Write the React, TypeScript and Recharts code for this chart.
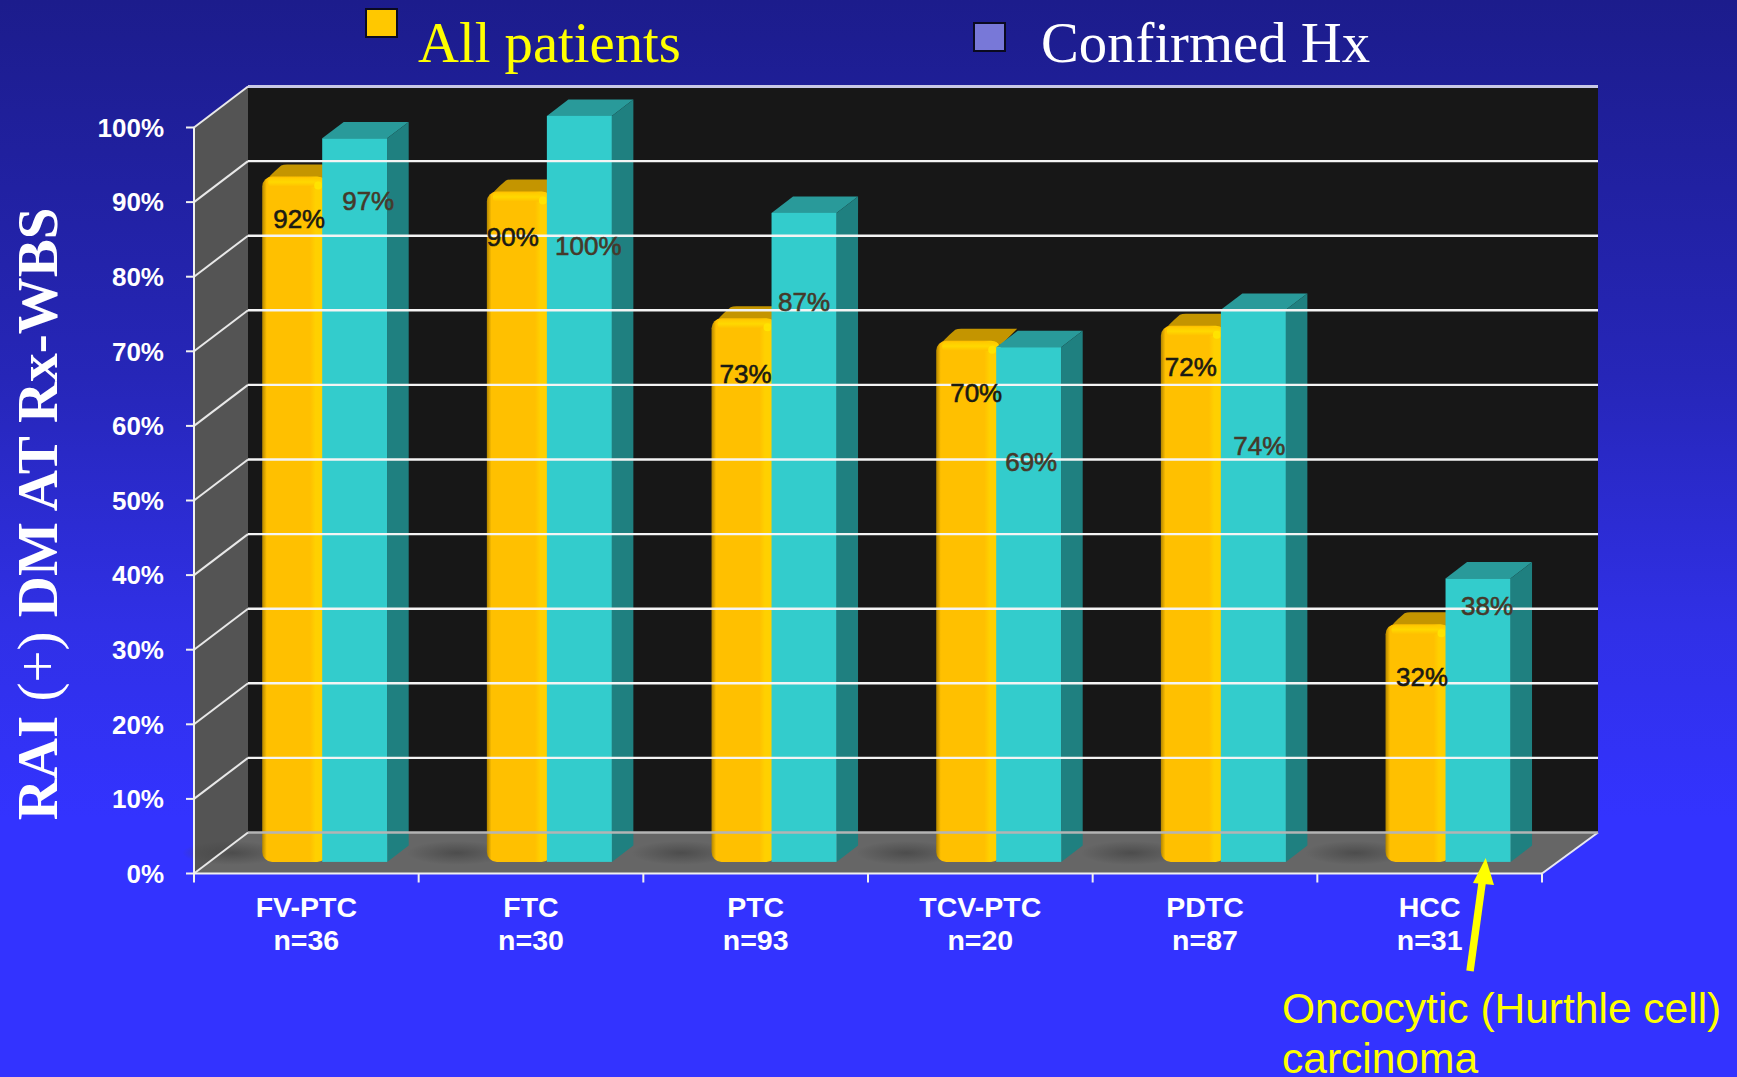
import React from "react";
import {
  Bar,
  BarChart,
  LabelList,
  Legend,
  ReferenceArea,
  ReferenceLine,
  XAxis,
  YAxis,
} from "recharts";

// Chart values
const categories = ["FV-PTC", "FTC", "PTC", "TCV-PTC", "PDTC", "HCC"];
const sampleSizes = ["n=36", "n=30", "n=93", "n=20", "n=87", "n=31"];
const allPatients = [92, 90, 73, 70, 72, 32];
const confirmedHx = [97, 100, 87, 69, 74, 38];
const yTicks = [0, 10, 20, 30, 40, 50, 60, 70, 80, 90, 100];
const legendLabels = ["All patients", "Confirmed Hx"];
const axisTitle = ["RAI ", "(+)", " DM AT Rx-WBS"];
const noteLines = ["Oncocytic (Hurthle cell)", "carcinoma"];

const rows = categories.map((category, i) => ({
  category,
  sample: sampleSizes[i],
  allPatients: allPatients[i],
  confirmedHx: confirmedHx[i],
}));

// Nudges for the value captions, measured from each bar's top centre
const allPatientsCaptionNudge = [[7, 43], [-4, 46], [4, 57], [10, 53], [0, 42], [6.5, 54]];
const confirmedCaptionNudge = [[13.5, 63], [9, 130], [0, 89], [2.5, 115], [6, 136], [9, 28]];

// Projection of the 3D box
const WALL_DX = 54;
const WALL_DY = -41;
const WALL_RIGHT_EXTRA = 2;
const BAR_FLOOR_DX = 18.2;
const BAR_FLOOR_DY = -11.6;
const BAR_DEPTH_DX = 21.5;
const BAR_DEPTH_DY = -16.3;
const VISIBLE_ORANGE = 60;

const SANS = "'Liberation Sans', Arial, sans-serif";
const SERIF = "'Liberation Serif', 'Times New Roman', serif";

const Room = ({ x, y, width, height }: any) => {
  const left = x;
  const right = x + width;
  const top = y;
  const bottom = y + height;
  const backRight = right + WALL_DX + WALL_RIGHT_EXTRA;
  const pts = (list: number[][]) => list.map((p) => p.join(",")).join(" ");
  return (
    <g>
      <polygon
        fill="#171717"
        points={pts([
          [left + WALL_DX, top + WALL_DY],
          [backRight, top + WALL_DY],
          [backRight, bottom + WALL_DY],
          [left + WALL_DX, bottom + WALL_DY],
        ])}
      />
      <polygon
        fill="#545454"
        points={pts([
          [left, top],
          [left + WALL_DX, top + WALL_DY],
          [left + WALL_DX, bottom + WALL_DY],
          [left, bottom],
        ])}
      />
      <polygon
        fill="#666666"
        points={pts([
          [left, bottom],
          [left + WALL_DX, bottom + WALL_DY],
          [backRight, bottom + WALL_DY],
          [right, bottom],
        ])}
      />
      <line
        x1={right}
        y1={bottom}
        x2={backRight}
        y2={bottom + WALL_DY}
        stroke="#e8e8f4"
        strokeWidth={2}
      />
    </g>
  );
};

// One gridline: along the back wall, then diagonally down the side wall
const GridRow = ({ x1, x2, y1, y2, tick }: any) => {
  const isTop = tick === yTicks[yTicks.length - 1];
  const isFloor = tick === yTicks[0];
  const color = isTop ? "#c8c8e6" : isFloor ? "#b4b4b4" : "#f4f4f4";
  const left = Math.min(x1, x2);
  const right = Math.max(x1, x2);
  return (
    <g>
      <line
        x1={left + WALL_DX}
        x2={right + WALL_DX + WALL_RIGHT_EXTRA}
        y1={y1 + WALL_DY}
        y2={y2 + WALL_DY}
        stroke={color}
        strokeWidth={isTop ? 3 : 2.4}
      />
      <line
        x1={left}
        y1={y1}
        x2={left + WALL_DX}
        y2={y1 + WALL_DY}
        stroke="#e8e8e8"
        strokeWidth={2}
      />
    </g>
  );
};

const RoundedBar = ({ x, y, width, height, value }: any) => {
  if (!height) return null;
  const left = x + BAR_FLOOR_DX;
  const top = y + BAR_FLOOR_DY;
  const base = top + height;
  return (
    <g>
      <ellipse cx={left - 30} cy={base - 9} rx={50} ry={12} fill="url(#floorShade)" />
      <path
        fill="#c49500"
        d={`M ${left + 2} ${top + 8} Q ${left + 6} ${top + 1} ${left + 19} ${top - 10}
            Q ${left + 21} ${top - 11} ${left + 25} ${top - 11}
            L ${left + width + 16} ${top - 11} L ${left + width} ${top + 5} Z`}
      />
      <rect x={left} y={top + 1} width={width} height={height - 1} rx={10} ry={10} fill="url(#orangeFace)" />
      <rect x={left + 6} y={top + 2} width={width - 9} height={9} rx={4} fill="url(#orangeRim)" />
      <circle cx={left + VISIBLE_ORANGE - 4} cy={top + 10} r={4} fill="#ffe600" opacity={0.9} />
      <title>{`${value}%`}</title>
    </g>
  );
};

const BoxBar = ({ x, y, width, height, value }: any) => {
  if (!height) return null;
  const left = x + BAR_FLOOR_DX;
  const top = y + BAR_FLOOR_DY;
  const right = left + width;
  const base = top + height;
  return (
    <g>
      <polygon
        fill="#299a9a"
        points={`${left},${top} ${left + BAR_DEPTH_DX},${top + BAR_DEPTH_DY} ${right + BAR_DEPTH_DX},${top + BAR_DEPTH_DY} ${right},${top}`}
      />
      <polygon
        fill="#1f8080"
        points={`${right},${top} ${right + BAR_DEPTH_DX},${top + BAR_DEPTH_DY} ${right + BAR_DEPTH_DX},${base + BAR_DEPTH_DY} ${right},${base}`}
      />
      <rect x={left} y={top} width={width} height={height} fill="#33cccc" />
      <title>{`${value}%`}</title>
    </g>
  );
};

const makeCaption =
  (nudges: number[][], visibleWidth: number, fill: string) =>
  ({ x, y, index, value }: any) => {
    const [dx, dy] = nudges[index];
    return (
      <text
        x={x + BAR_FLOOR_DX + visibleWidth / 2 + dx}
        y={y + BAR_FLOOR_DY + dy}
        fill={fill}
        stroke={fill}
        strokeWidth={0.6}
        fontFamily={SANS}
        fontSize={26}
        textAnchor="middle"
        dominantBaseline="central"
      >
        {`${value}%`}
      </text>
    );
  };

const CategoryTick = ({ x, y, index, payload, tickGap }: any) => {
  const half = tickGap / 2;
  const isLast = index === categories.length - 1;
  return (
    <g>
      <line x1={x - half} x2={x - half} y1={y} y2={y + 9} stroke="#f0f0f0" strokeWidth={2} />
      {isLast && <line x1={x + half} x2={x + half} y1={y} y2={y + 9} stroke="#f0f0f0" strokeWidth={2} />}
      <text
        x={x}
        y={y + 43.5}
        fill="#ffffff"
        fontFamily={SANS}
        fontWeight="bold"
        fontSize={28.5}
        textAnchor="middle"
      >
        {payload.value}
      </text>
      <text
        x={x}
        y={y + 76.5}
        fill="#ffffff"
        fontFamily={SANS}
        fontWeight="bold"
        fontSize={28.5}
        textAnchor="middle"
      >
        {sampleSizes[index]}
      </text>
    </g>
  );
};

const AxisTitle = () => (
  <text
    transform="translate(57 514) rotate(-90)"
    fill="#ffffff"
    fontFamily={SERIF}
    fontSize={57}
    fontWeight="bold"
    textAnchor="middle"
  >
    <tspan>{axisTitle[0]}</tspan>
    <tspan fontWeight="normal">{axisTitle[1]}</tspan>
    <tspan>{axisTitle[2]}</tspan>
  </text>
);

const LegendRow = () => {
  const swatches = ["#ffc800", "#7878d8"];
  const swatchX = [365, 973];
  const swatchY = [8, 22];
  const textX = [418, 1041];
  const textColor = ["#ffff00", "#ffffff"];
  return (
    <div style={{ position: "relative", width: 0, height: 0 }}>
      {legendLabels.map((label, i) => (
        <React.Fragment key={label}>
          <div
            style={{
              position: "absolute",
              boxSizing: "border-box",
              left: swatchX[i],
              top: swatchY[i],
              width: 33,
              height: 30,
              background: swatches[i],
              border: "2.5px solid #0a0a20",
            }}
          />
          <div
            style={{
              position: "absolute",
              left: textX[i],
              top: 10,
              whiteSpace: "nowrap",
              fontFamily: SERIF,
              fontSize: 56.7,
              lineHeight: "65px",
              color: textColor[i],
            }}
          >
            {label}
          </div>
        </React.Fragment>
      ))}
    </div>
  );
};

// Callout for the HCC group: arrow pointing at the bars plus its two-line note
const HccNote = ({ width, height }: any) => (
  <svg
    width={width}
    height={height}
    style={{ position: "absolute", left: 0, top: 0, pointerEvents: "none" }}
  >
    <line x1={1470} y1={971} x2={1482.5} y2={880} stroke="#ffff00" strokeWidth={7.5} />
    <polygon points="1485.7,858 1473,883 1494,885" fill="#ffff00" />
    <text x={1282} y={1023} fill="#ffff00" fontFamily={SANS} fontSize={42.5}>
      {noteLines[0]}
    </text>
    <text x={1282} y={1073} fill="#ffff00" fontFamily={SANS} fontSize={42.5}>
      {noteLines[1]}
    </text>
  </svg>
);

export default function App() {
  const width = 1737;
  const height = 1077;
  const marginRight = 195;
  const axisWidth = 194;
  const tickGap = (width - marginRight - axisWidth) / categories.length;

  return (
    <div
      style={{
        position: "absolute",
        left: 0,
        top: 0,
        width,
        height,
        overflow: "hidden",
        background: "linear-gradient(180deg, #1c1c8c 0%, #2626b8 35%, #3030e6 58%, #3333ff 76%, #3333ff 100%)",
      }}
    >
      <BarChart
        width={width}
        height={height}
        data={rows}
        margin={{ top: 127.5, right: marginRight, bottom: 0, left: 0 }}
        barSize={65}
        barGap={-5}
        style={{ position: "absolute", left: 0, top: 0 }}
      >
        <defs>
          <linearGradient id="orangeFace" x1="0" x2="1" y1="0" y2="0">
            <stop offset="0" stopColor="#b38600" />
            <stop offset="0.07" stopColor="#ffc000" />
            <stop offset="0.74" stopColor="#ffc000" />
            <stop offset="0.82" stopColor="#ffd000" />
            <stop offset="1" stopColor="#ffd000" />
          </linearGradient>
          <linearGradient id="orangeRim" x1="0" x2="0" y1="0" y2="1">
            <stop offset="0" stopColor="#ffc800" />
            <stop offset="0.5" stopColor="#ffd800" />
            <stop offset="1" stopColor="#ffc000" />
          </linearGradient>
          <radialGradient id="floorShade">
            <stop offset="0" stopColor="#484848" stopOpacity={0.85} />
            <stop offset="1" stopColor="#484848" stopOpacity={0} />
          </radialGradient>
        </defs>
        <ReferenceArea y1={0} y2={100} shape={<Room />} ifOverflow="visible" />
        {yTicks.map((tick) => (
          <ReferenceLine
            key={tick}
            y={tick}
            ifOverflow="visible"
            shape={(props: any) => <GridRow {...props} tick={tick} />}
          />
        ))}
        <XAxis
          dataKey="category"
          height={1077 - 873.5}
          interval={0}
          tickSize={0}
          tickMargin={0}
          tickLine={false}
          axisLine={{ stroke: "#f0f0f0", strokeWidth: 2 }}
          tick={(props: any) => <CategoryTick {...props} tickGap={tickGap} />}
        />
        <YAxis
          type="number"
          width={axisWidth}
          domain={[0, 100]}
          ticks={yTicks}
          interval={0}
          tickSize={8}
          tickMargin={22}
          tickFormatter={(v: number) => `${v}%`}
          tick={{ fill: "#ffffff", fontFamily: SANS, fontWeight: "bold", fontSize: 26 }}
          tickLine={{ stroke: "#f0f0f0", strokeWidth: 2 }}
          axisLine={{ stroke: "#f0f0f0", strokeWidth: 2 }}
        />
        <Legend content={<LegendRow />} wrapperStyle={{ position: "absolute", left: 0, top: 0, width: 0, height: 0 }} />
        <Bar dataKey="allPatients" name={legendLabels[0]} isAnimationActive={false} shape={<RoundedBar />}>
          <LabelList dataKey="allPatients" content={makeCaption(allPatientsCaptionNudge, VISIBLE_ORANGE, "#1a1a14")} />
        </Bar>
        <Bar dataKey="confirmedHx" name={legendLabels[1]} isAnimationActive={false} shape={<BoxBar />}>
          <LabelList dataKey="confirmedHx" content={makeCaption(confirmedCaptionNudge, 65, "#45392a")} />
        </Bar>
        <AxisTitle />
      </BarChart>
      <HccNote width={width} height={height} />
    </div>
  );
}
